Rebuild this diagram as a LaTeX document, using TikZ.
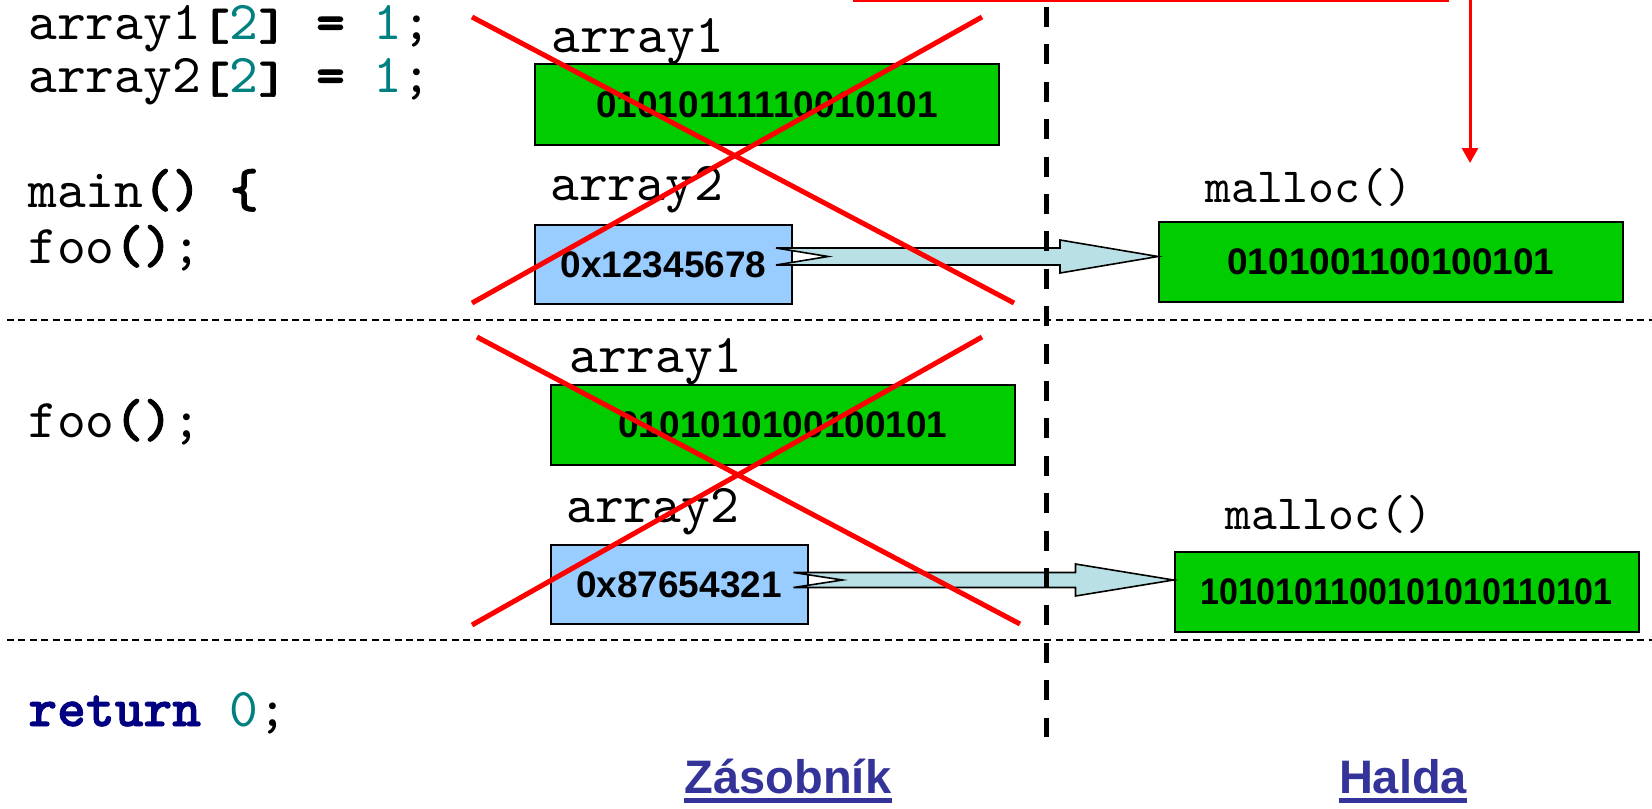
\documentclass[tikz,border=0pt]{standalone}
\usepackage{fontspec}
\usepackage{tikz}
\usetikzlibrary{arrows.meta, positioning, calc}

\newfontfamily\codefont{lmmono10-regular.otf}[BoldFont=lmmonolt10-bold.otf, BoldFeatures={FakeBold=1.6}]
\newfontfamily\cellfont{Liberation Sans}

\newcommand{\sqbr}[1]{\scalebox{1}[0.82]{\textbf{#1}}}

\definecolor{cellgreen}{RGB}{0,204,0}
\definecolor{ptrblue}{RGB}{153,204,255}
\definecolor{shaftblue}{RGB}{185,224,228}
\definecolor{numteal}{RGB}{0,128,128}
\definecolor{kwnavy}{RGB}{0,0,128}
\definecolor{headblue}{RGB}{51,51,153}

\tikzset{
  code/.style={anchor=base west, inner sep=0pt, font=\codefont\fontsize{27.4}{32}\selectfont},
  mallocname/.style={code, font=\codefont\fontsize{24.6}{29}\selectfont},
  cell/.style={draw, line width=1pt, inner sep=0pt, font=\cellfont\bfseries\fontsize{18.5}{22}\selectfont},
  valcell/.style={cell, fill=cellgreen, minimum width=232pt, minimum height=40pt},
  ptrcell/.style={cell, fill=ptrblue, minimum width=128.5pt, minimum height=39.5pt},
  shaft/.style={fill=shaftblue, draw=black, line width=0.8pt},
  strike/.style={red, line width=2.5pt},
  sep/.style={line width=1pt, dash pattern=on 3.5pt off 2.2pt},
  divider/.style={line width=2.5pt, dash pattern=on 10pt off 8.7pt},
  colhead/.style={anchor=base, inner sep=0pt, text=headblue, font=\cellfont\bfseries\fontsize{23.5}{28}\selectfont},
  headline/.style={headblue, line width=2.5pt}
}

\begin{document}
\begin{tikzpicture}[x=0.5pt, y=-0.5pt]

\useasboundingbox (0,0) rectangle (1652,808);

\node[code] (l1) at (28,40) {array1\sqbr{[}\textcolor{numteal}{2}\sqbr{]} \textbf{=} \textcolor{numteal}{1};};
\node[code] (l2) at (28,93) {array2\sqbr{[}\textcolor{numteal}{2}\sqbr{]} \textbf{=} \textcolor{numteal}{1};};
\node[code] (l3) at (28,207) {main\textbf{()} \textbf{\{}};
\node[code] (l4) at (28,263) {foo\textbf{()};};
\node[code] (l5) at (28,437) {foo\textbf{()};};
\node[code] (l6) at (28,726) {\textcolor{kwnavy}{\textbf{return}} \textcolor{numteal}{0};};

\node[code] (n1a) at (551,53) {array1};
\node[code] (n2a) at (550,200) {array2};
\node[code] (n1b) at (569,372) {array1};
\node[code] (n2b) at (566,522) {array2};
\node[mallocname] (ma) at (1205,202) {malloc()};
\node[mallocname] (mb) at (1225,529) {malloc()};

\node[valcell] (v1a) at (767,104.5) {01010111110010101};
\node[ptrcell] (v2a) at (663.5,264.5) {0x12345678};
\node[valcell] (h1) at (1391,262) {0101001100100101};
\node[valcell] (v1b) at (783,424.5) {0101010100100101};
\node[ptrcell] (v2b) at (679,584.5) {0x87654321};
\node[valcell] (h2) at (1406.5,592) {\scalebox{0.92}[1]{1010101100101010110101}};

\coordinate (p1) at ($(v2a.east)+(-17,-8)$);
\coordinate (q1) at (p1 -| h1.west);
\coordinate (p2) at ($(v2b.east)+(-15,-4.5)$);
\coordinate (q2) at (p2 -| h2.west);

\filldraw[shaft] let \p1=(p1), \p2=(q1) in
  (\x1,\y1+4.25pt) -- (\x2-49pt,\y1+4.25pt) -- (\x2-49pt,\y1+8.25pt) -- (\x2,\y1)
  -- (\x2-49pt,\y1-8.25pt) -- (\x2-49pt,\y1-4.25pt) -- (\x1,\y1-4.25pt) -- (\x1+26pt,\y1) -- cycle;
\filldraw[shaft] let \p1=(p2), \p2=(q2) in
  (\x1,\y1+3.75pt) -- (\x2-49pt,\y1+3.75pt) -- (\x2-49pt,\y1+8pt) -- (\x2,\y1)
  -- (\x2-49pt,\y1-8pt) -- (\x2-49pt,\y1-3.75pt) -- (\x1,\y1-3.75pt) -- (\x1+24.5pt,\y1) -- cycle;

\draw[sep] (7,320) -- (1652,320);
\draw[sep] (7,640) -- (1652,640);

\draw[strike] (472,17) -- (1014,303);
\draw[strike] (472,303) -- (982,17);
\draw[strike] (477,337) -- (1020,624);
\draw[strike] (472,625) -- (982,337);

\draw[divider] (1046,7) -- (1046,737);

\coordinate (ra) at (853,1);
\coordinate (rb) at (1449,1);
\coordinate (rtop) at (1470,0);
\coordinate (rtip) at (1470,163);
\draw[red, line width=1pt] (ra) -- (rb);
\draw[red, line width=1.5pt, -{Triangle[length=7.5pt,width=8pt]}] (rtop) -- (rtip);

\node[colhead] (zas) at (788,793) {Zásobník};
\node[colhead] (hal) at (1403,793) {Halda};
\draw[headline] ([yshift=-3.75pt]zas.base west) -- ([yshift=-3.75pt]zas.base east);
\draw[headline] ([yshift=-3.75pt]hal.base west) -- ([yshift=-3.75pt]hal.base east);

\end{tikzpicture}
\end{document}
